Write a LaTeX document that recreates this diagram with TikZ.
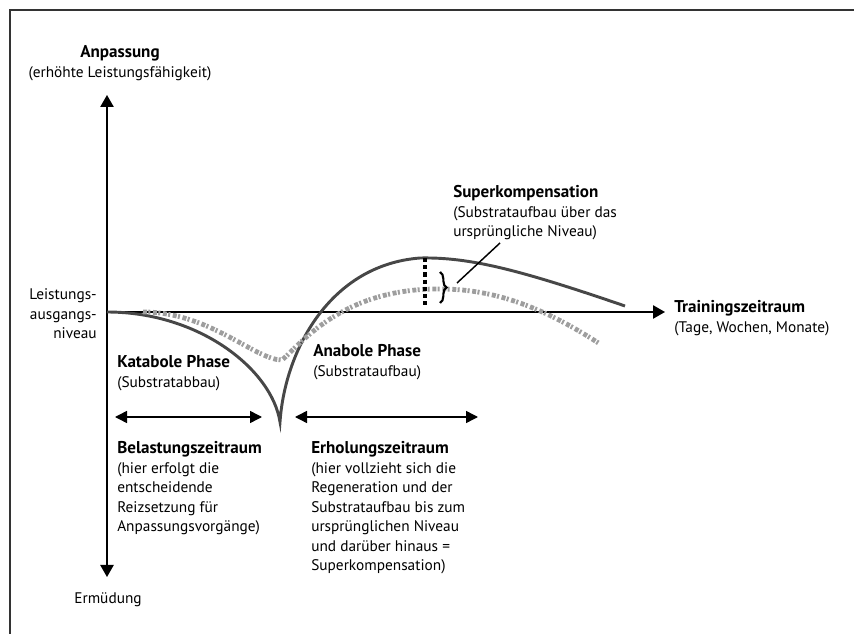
\documentclass[tikz,border=0pt]{standalone}
\usepackage{fontspec}
\setmainfont{PT Sans}
\usetikzlibrary{arrows.meta, decorations.pathreplacing}

\newcommand{\lblfont}{\fontsize{11.5}{14.6}\selectfont}
\newcommand{\hd}[1]{{\fontsize{12.8}{14.6}\selectfont\bfseries #1}}
\newcommand{\lines}[2][l]{\begin{tabular}[t]{@{}#1@{}}#2\end{tabular}}

\tikzset{
  lbl/.style={anchor=base west, inner sep=0pt, font=\lblfont},
  axis/.style={line width=1.1pt, {Triangle[length=9pt,width=10pt]}-{Triangle[length=9pt,width=10pt]}},
  xaxis/.style={line width=1.1pt, -{Triangle[length=9pt,width=10pt]}},
  span/.style={line width=1.1pt, {Triangle[length=9pt,width=9pt]}-{Triangle[length=9pt,width=9pt]}},
  curve/.style={line width=2.2pt, draw=black!72},
  trend/.style={line width=3.6pt, draw=black!38, dash pattern=on 3pt off 1pt on 1.5pt off 2pt},
}

\begin{document}
\begin{tikzpicture}[x=0.75pt, y=-0.75pt]
  \useasboundingbox (0,0) rectangle (854,634);
  % frame
  \draw[line width=1.1pt, black!80] (10,634) -- (10,10) -- (854,10);

  % axes
  \coordinate (O) at (107,312);
  \coordinate (ytop) at (107,95);
  \coordinate (ybot) at (107,577);
  \coordinate (xend) at (665,312);
  \draw[axis] (ytop) -- (ybot);
  \draw[xaxis] (O) -- (xend);

  % axis labels
  \node[lbl, anchor=base] (anp) at (120,58)
    {\lines[c]{\hd{Anpassung}\\(erhöhte Leistungsfähigkeit)}};
  \node[lbl, anchor=base east] (niveau) at (97,300)
    {\lines[r]{Leistungs-\\ausgangs-\\niveau}};
  \node[lbl, anchor=base] (ermued) at (108,604) {Ermüdung};
  \node[lbl] (tz) at (674,313) {\lines{\hd{Trainingszeitraum}\\(Tage, Wochen, Monate)}};

  % performance curve
  \coordinate (cusp) at (280,422);
  \coordinate (peak) at (420,258);
  \coordinate (cend) at (625,306);
  \draw[curve] (O) .. controls (200,312) and (272,370) .. (cusp)
    .. controls (285,350) and (330,265) .. (peak)
    .. controls (470,257) and (520,270) .. (cend);

  % grey curve
  \coordinate (g0) at (143,312);
  \coordinate (gmin) at (282,360);
  \coordinate (gtop) at (435,289);
  \coordinate (gend) at (600,344);
  \draw[trend] (g0) .. controls (210,312) and (255,360) .. (gmin)
    .. controls (300,345) and (340,290) .. (gtop)
    .. controls (490,288) and (540,305) .. (gend);

  % superkompensation marker
  \coordinate (d1) at (425,258);
  \coordinate (d2) at (425,308);
  \draw[line width=2.6pt, dash pattern=on 3.2pt off 2.2pt] (d1) -- (d2);
  \draw[line width=1.6pt, decorate, decoration={brace, amplitude=5pt}] (440,272) -- (440,303);
  \node[lbl] (sk) at (453,198)
    {\lines{\hd{Superkompensation}\\(Substrataufbau über das\\ursprüngliche Niveau)}};
  \coordinate (lead) at (457,283);
  \draw[line width=1.1pt] (lead) -- (500,243);

  % phases
  \node[lbl] (kat) at (117,368) {\lines{\hd{Katabole Phase}\\(Substratabbau)}};
  \node[lbl] (ana) at (313,357) {\lines{\hd{Anabole Phase}\\(Substrataufbau)}};

  % time spans
  \coordinate (b1) at (115,417);
  \coordinate (b2) at (262,417);
  \coordinate (e1) at (295,417);
  \coordinate (e2) at (478,417);
  \draw[span] (b1) -- (b2);
  \draw[span] (e1) -- (e2);

  \node[lbl] (bel) at (117,454)
    {\lines{\hd{Belastungszeitraum}\\(hier erfolgt die\\entscheidende\\Reizsetzung für\\Anpassungsvorgänge)}};
  \node[lbl] (erh) at (311,454)
    {\lines{\hd{Erholungszeitraum}\\(hier vollzieht sich die\\Regeneration und der\\Substrataufbau bis zum\\ursprünglichen Niveau\\und darüber hinaus =\\Superkompensation)}};
\end{tikzpicture}
\end{document}
